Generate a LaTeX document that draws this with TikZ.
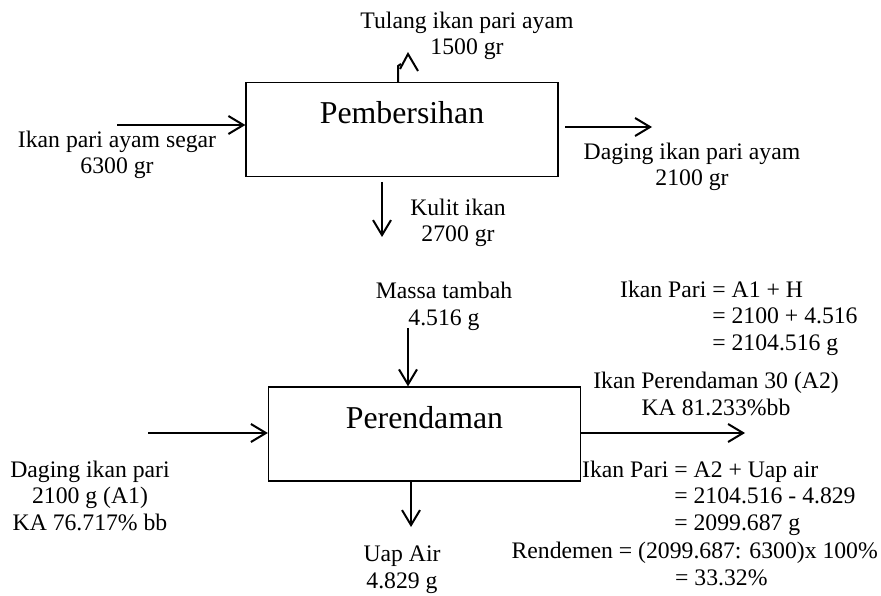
\documentclass[tikz,border=0pt]{standalone}
\usepackage{fontspec}
\setmainfont{Liberation Serif}
\usetikzlibrary{arrows.meta}

\begin{document}
\begin{tikzpicture}[x=1pt,y=-1pt,
	proses/.style={draw,line width=1.3pt,inner sep=0,minimum width=312pt,minimum height=94pt,text height=22pt,text depth=34pt,font=\fontsize{31.8}{36}\selectfont},
	ket/.style={inner sep=0,anchor=base,align=center,font=\fontsize{23.7}{26.5}\selectfont},
	ketkiri/.style={ket,anchor=base west,align=left},
	panah/.style={line width=2pt,-{Straight Barb[length=15pt,width=18pt,line width=2pt]}}]
	\useasboundingbox (0,0) rectangle (881,596);
	\node[proses] (1) at (402,129.5) {Pembersihan};
	\node[proses] (2) at (424.5,434) {Perendaman};
	\node[ket] (tulang) at (467,55) {Tulang ikan pari ayam\\1500 gr};
	\node[ket] (segar) at (117,174) {Ikan pari ayam segar\\6300 gr};
	\node[ket] (daging) at (692,186) {Daging ikan pari ayam\\2100 gr};
	\node[ket] (kulit) at (458,242) {Kulit ikan\\2700 gr};
	\node[ket] (massa) at (444,325) {Massa tambah\\4.516 g};
	\node[ketkiri] (hitung1) at (620,350) {Ikan Pari = A1 + H\\\hphantom{Ikan Pari }= 2100 + 4.516\\\hphantom{Ikan Pari }= 2104.516 g};
	\node[ket] (hasil) at (716,415) {Ikan Perendaman 30 (A2)\\KA 81.233\%bb};
	\node[ketkiri] (hitung2) at (582,530) {Ikan Pari = A2 + Uap air\\\hphantom{Ikan Pari }= 2104.516 - 4.829\\\hphantom{Ikan Pari }= 2099.687 g};
	\node[ket,anchor=base east] (rend) at (878,558) {Rendemen = (2099.687: 6300)x 100\%};
	\node[ketkiri] (rend2) at (675,585) {= 33.32\%};
	\node[ket] (a1) at (90,530) {Daging ikan pari\\2100 g (A1)\\KA 76.717\% bb};
	\node[ket] (uap) at (402,588) {Uap Air\\4.829 g};
	\coordinate (m1) at (117,125);
	\coordinate (k1) at (565,127);
	\coordinate (k2) at (652,127);
	\coordinate (t1) at (398,66);
	\coordinate (s1) at (382,182);
	\coordinate (s2) at (382,237);
	\coordinate (m2) at (408,328);
	\coordinate (m3) at (148,433);
	\coordinate (k3) at (745,433);
	\coordinate (u1) at (411,527);
	\draw[panah] (m1) -- (m1 -| 1.west);
	\draw[panah] (k1) -- (k2);
	\draw[line width=2pt] (t1 |- 1.north) -- (t1) -- ++(3,-2);
	\draw[line width=2pt] (400,69) -- (408,54) -- (418,71);
	\draw[panah] (s1) -- (s2);
	\draw[panah] (m2) -- (m2 |- 2.north);
	\draw[panah] (m3) -- (m3 -| 2.west);
	\draw[panah] (k3 -| 2.east) -- (k3);
	\draw[panah] (u1 |- 2.south) -- (u1);
\end{tikzpicture}
\end{document}
